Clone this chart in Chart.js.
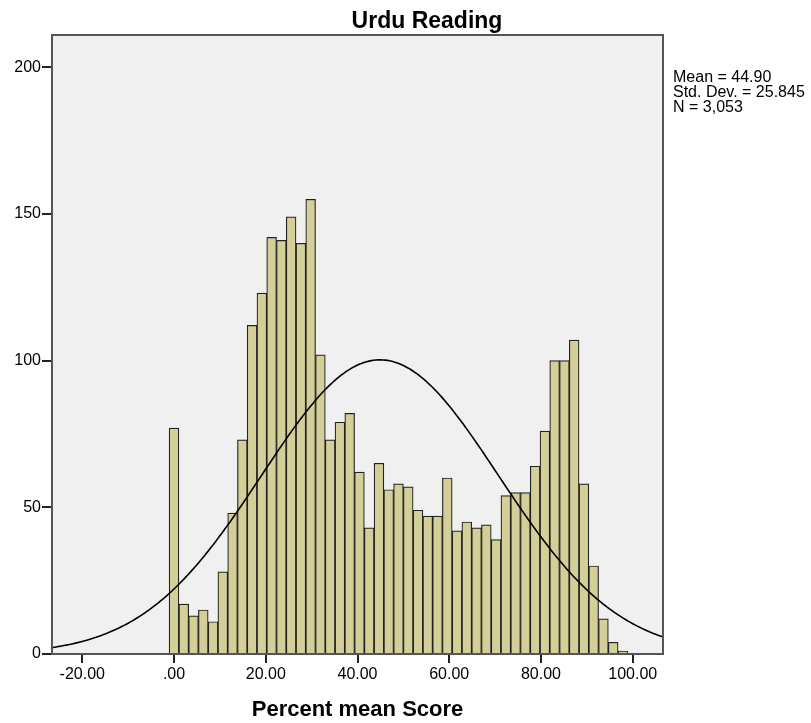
<!DOCTYPE html>
<html lang="en">
<head>
    <meta charset="UTF-8">
    <title>Urdu Reading - Histogram</title>
    <style>
        body {
            margin: 0;
            padding: 0;
            background: #fff;
        }
        .chart-container {
            position: relative;
            width: 811px;
            height: 723px;
        }
    </style>
</head>
<body>
    <div class="chart-container">
        <canvas id="histChart"></canvas>
    </div>

    <script src="https://cdn.jsdelivr.net/npm/chart.js"></script>
    <script>
        // Frequencies per bin (47 bins over 0..100)
        const counts = [77, 17, 13, 15, 11, 28, 48, 73, 112, 123,
                        142, 141, 149, 140, 155, 102, 73, 79, 82,
                        62, 43, 65, 56, 58, 57, 49, 47, 47, 60,
                        42, 45, 43, 44, 39, 54, 55, 55, 64, 76,
                        100, 100, 107, 58, 30, 12, 4, 1];
        const binWidth = 100 / 47;
        const binCenters = counts.map((c, i) => i * binWidth);

        const xTicks = [-20, 0, 20, 40, 60, 80, 100];
        const yTicks = [0, 50, 100, 150, 200];

        const meanScore = 44.90;
        const stdDev = 25.845;
        const nCases = 3053;
        const statsLines = ['Mean = 44.90', 'Std. Dev. = 25.845', 'N = 3,053'];

        const FONT = "'Liberation Sans', Arial, sans-serif";

        // fitted normal curve scaled to the histogram (N * bin width * pdf)
        const curve = [];
        for (let x = -28; x <= 108; x += 0.5) {
            const z = (x - meanScore) / stdDev;
            const y = nCases * binWidth * Math.exp(-0.5 * z * z) / (stdDev * Math.sqrt(2 * Math.PI));
            curve.push({ x: x, y: y });
        }

        const plotDecor = {
            id: 'plotDecor',
            beforeDraw(chart) {
                const { ctx, chartArea: a } = chart;
                ctx.save();
                ctx.fillStyle = '#f0f0f0';
                ctx.fillRect(a.left, a.top, a.right - a.left, a.bottom - a.top);
                ctx.restore();
            },
            afterDraw(chart) {
                const { ctx, chartArea: a } = chart;
                ctx.save();
                ctx.strokeStyle = '#555';
                ctx.lineWidth = 2;
                ctx.strokeRect(a.left, a.top, a.right - a.left, a.bottom - a.top);

                // title
                ctx.fillStyle = '#000';
                ctx.font = 'bold 23px ' + FONT;
                ctx.textAlign = 'center';
                ctx.textBaseline = 'alphabetic';
                ctx.fillText('Urdu Reading', 427, 28);

                // stats box on the right
                ctx.font = '16px ' + FONT;
                ctx.textAlign = 'left';
                statsLines.forEach((t, i) => ctx.fillText(t, 673, 82 + i * 15));
                ctx.restore();
            }
        };

        new Chart(document.getElementById('histChart'), {
            data: {
                datasets: [{
                    type: 'line',
                    data: curve,
                    borderColor: '#000',
                    borderWidth: 1.6,
                    pointRadius: 0,
                    tension: 0,
                    order: 0
                }, {
                    type: 'bar',
                    data: binCenters.map((x, i) => ({ x: x, y: counts[i] })),
                    backgroundColor: '#d4cf98',
                    borderColor: '#222',
                    borderWidth: 1.2,
                    barPercentage: 1.0,
                    categoryPercentage: 1.0,
                    grouped: false,
                    order: 1
                }]
            },
            options: {
                responsive: true,
                maintainAspectRatio: false,
                animation: false,
                layout: {
                    padding: { top: 35, right: 148, left: 0, bottom: 0 }
                },
                plugins: {
                    legend: { display: false },
                    tooltip: { enabled: false }
                },
                scales: {
                    x: {
                        type: 'linear',
                        min: -26.6,
                        max: 106.6,
                        offset: false,
                        afterFit: (scale) => { scale.height = 69; },
                        afterBuildTicks: (scale) => {
                            scale.ticks = xTicks.map(v => ({ value: v }));
                        },
                        border: { display: false },
                        grid: {
                            display: true,
                            offset: false,
                            drawOnChartArea: false,
                            drawTicks: true,
                            tickLength: 9,
                            color: '#222',
                            lineWidth: 2
                        },
                        ticks: {
                            padding: 2,
                            color: '#000',
                            font: { family: FONT, size: 16 },
                            maxRotation: 0,
                            callback: (v) => v === 0 ? '.00' : v.toFixed(2)
                        },
                        title: {
                            display: true,
                            text: 'Percent mean Score',
                            color: '#000',
                            font: { family: FONT, size: 22, weight: 'bold' },
                            padding: { top: 0, bottom: 0 }
                        }
                    },
                    y: {
                        min: 0,
                        max: 211,
                        afterFit: (scale) => { scale.width = 52; },
                        afterBuildTicks: (scale) => {
                            scale.ticks = yTicks.map(v => ({ value: v }));
                        },
                        border: { display: false },
                        grid: {
                            display: true,
                            drawOnChartArea: false,
                            drawTicks: true,
                            tickLength: 10,
                            color: '#222',
                            lineWidth: 2
                        },
                        ticks: {
                            padding: 1,
                            color: '#000',
                            font: { family: FONT, size: 16 }
                        }
                    }
                }
            },
            plugins: [plotDecor]
        });
    </script>
</body>
</html>
